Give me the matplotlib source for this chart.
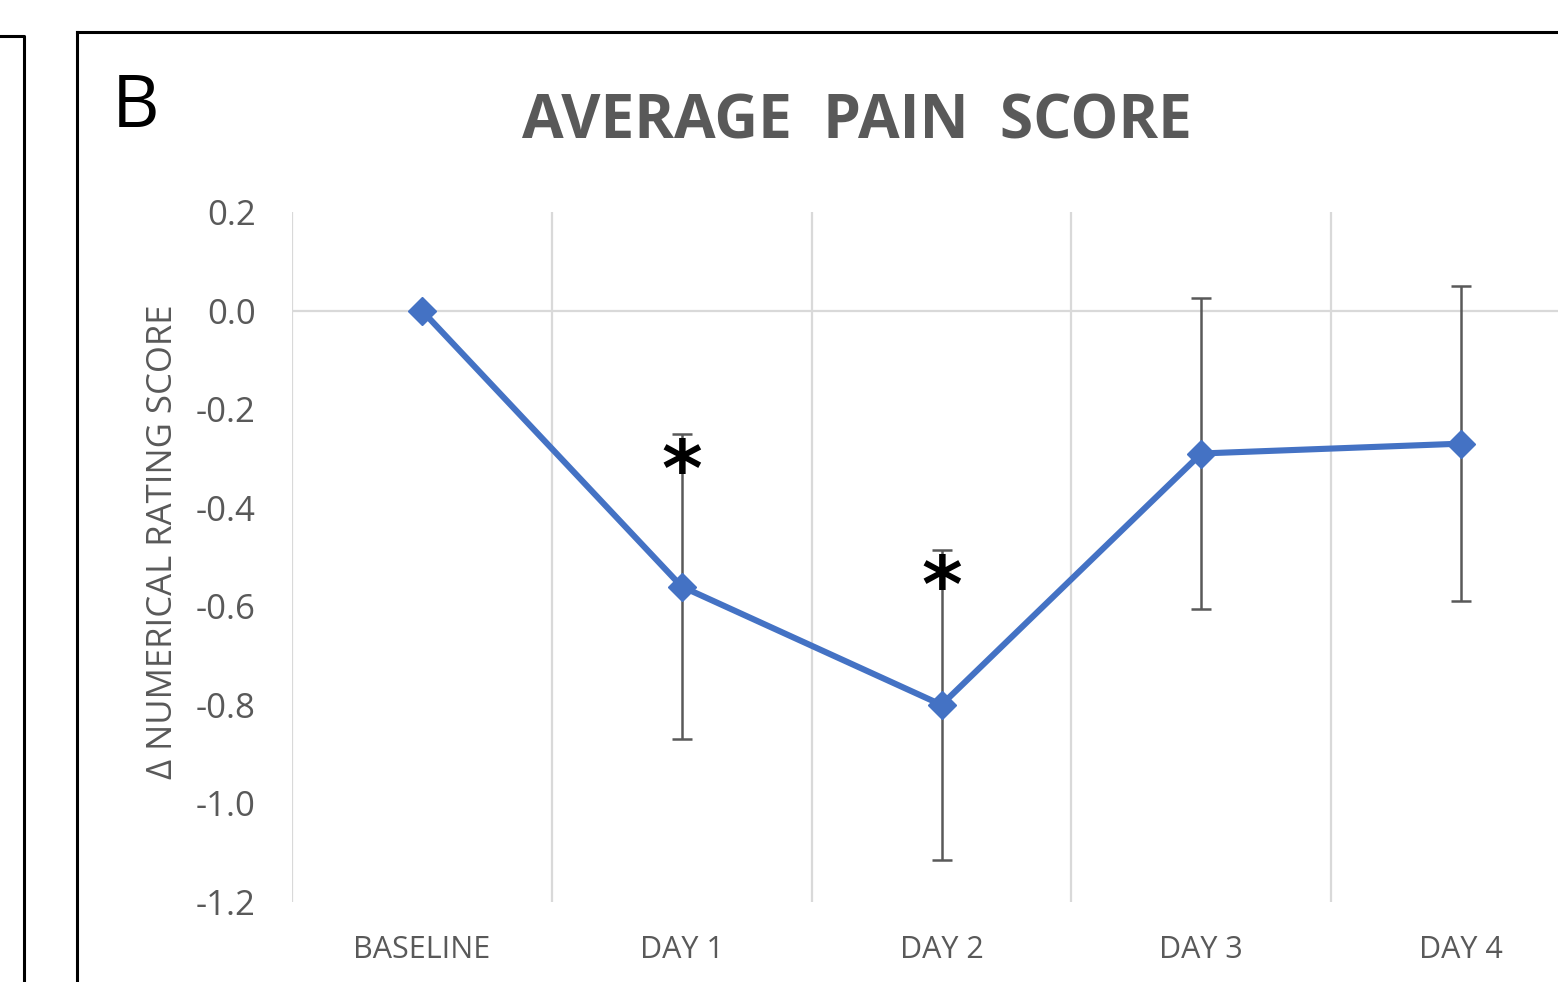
#!/usr/bin/env python3

import matplotlib.pyplot as plt
from matplotlib.lines import Line2D
import numpy as np

# data
categories = ["BASELINE", "DAY 1", "DAY 2", "DAY 3", "DAY 4"]
mean_change = [0.0, -0.56, -0.80, -0.29, -0.27]
err = [0.0, 0.31, 0.315, 0.315, 0.32]
significant = [False, True, True, False, False]
y_ticks = [0.2, 0.0, -0.2, -0.4, -0.6, -0.8, -1.0, -1.2]

BLUE = "#4472C4"
GRAY = "#595959"
GRID = "#D9D9D9"

plt.rcParams["font.family"] = ["Open Sans", "DejaVu Sans"]

fig = plt.figure(figsize=(15.58, 9.82), dpi=100)
W, H = 1558, 982

# axes placed so that the category bands line up with the picture (right edge runs off the page)
ax = fig.add_axes([292 / W, 1 - 902 / H, 1299 / W, 690 / H])
x = np.arange(len(categories))

ax.set_xlim(-0.5, len(categories) - 0.5)
ax.set_ylim(min(y_ticks), max(y_ticks))
for s in ax.spines.values():
    s.set_visible(False)

# vertical gridlines between categories, horizontal line at zero
for b in np.arange(-0.5, len(categories), 1.0):
    ax.axvline(b, color=GRID, lw=1.6, zorder=0)
ax.axhline(0, color=GRID, lw=1.6, zorder=0)

ax.errorbar(x[1:], mean_change[1:], yerr=err[1:], fmt="none", ecolor=GRAY,
            elinewidth=1.8, capsize=7, capthick=1.8, zorder=2)
ax.plot(x, mean_change, color=BLUE, lw=4.4, marker="D", markersize=14,
        zorder=3)

for xi, m, e, sig in zip(x, mean_change, err, significant):
    if sig:
        ax.annotate("*", (xi, m + e), xytext=(0, -29),
                    textcoords="offset points", ha="center", va="center",
                    fontsize=56, fontweight="bold", color="black",
                    family="DejaVu Sans", zorder=4)

ax.set_xticks(x)
ax.set_xticklabels(categories, fontsize=22, color=GRAY)
ax.set_yticks(y_ticks)
ax.set_yticklabels([f"{t:.1f}" for t in y_ticks], fontsize=25, color=GRAY)
ax.tick_params(length=0)
ax.tick_params(axis="x", pad=24)
ax.tick_params(axis="y", pad=26)
ax.set_ylabel("\u0394 NUMERICAL RATING SCORE", fontsize=25, color=GRAY)
ax.yaxis.set_label_coords((180 - 292) / 1299, (902 - 542) / 690)

fig.text(857 / W, 1 - 123 / H, "AVERAGE  PAIN  SCORE", ha="center",
         va="center", fontsize=43.5, fontweight="bold", color=GRAY)
fig.text(112 / W, 1 - 108 / H, "B", ha="left", va="center", fontsize=53,
         color="black")

# panel frames
fx0, fy0 = 77 / W, 1 - 32 / H
fig.add_artist(Line2D([fx0, 1.01], [fy0, fy0], color="black", lw=2.2,
                      transform=fig.transFigure))
fig.add_artist(Line2D([fx0, fx0], [fy0, -0.01], color="black", lw=2.2,
                      transform=fig.transFigure))
ax0, ay0 = 24 / W, 1 - 36 / H
fig.add_artist(Line2D([-0.01, ax0, ax0], [ay0, ay0, -0.01], color="black",
                      lw=2.2, transform=fig.transFigure))

fig.savefig("out.png", dpi=100)
